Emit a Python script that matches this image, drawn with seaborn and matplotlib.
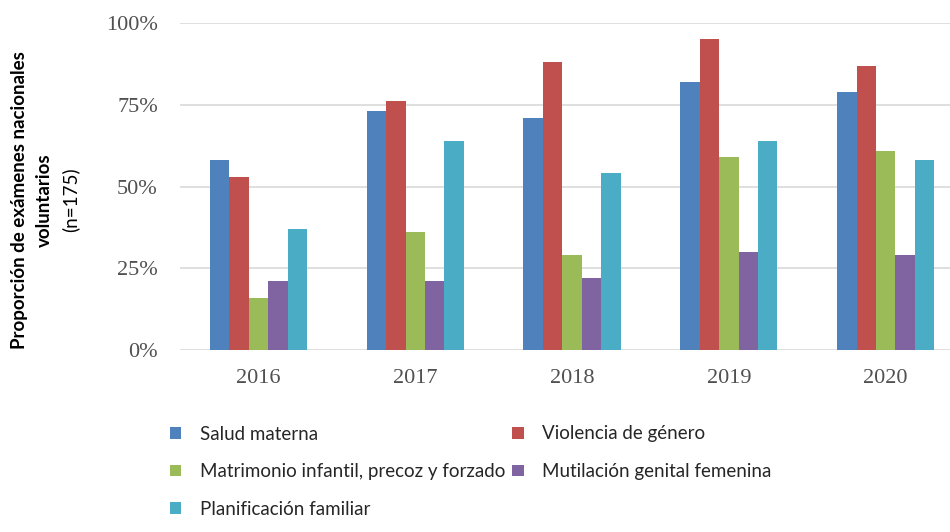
import matplotlib
matplotlib.use("Agg")
import matplotlib.pyplot as plt
import seaborn as sns
import pandas as pd
from matplotlib.ticker import PercentFormatter
from matplotlib.patches import Patch

years = ["2016", "2017", "2018", "2019", "2020"]
topics = ["Salud materna", "Violencia de género",
          "Matrimonio infantil, precoz y forzado",
          "Mutilación genital femenina", "Planificación familiar"]
salud_materna = [58, 73, 71, 82, 79]
violencia_genero = [53, 76, 88, 95, 87]
matrimonio_infantil = [16, 36, 29, 59, 61]
mutilacion_genital = [21, 21, 22, 30, 29]
planificacion_familiar = [37, 64, 54, 64, 58]
colors = ["#4F81BD", "#C0504D", "#9BBB59", "#8064A2", "#4BACC6"]

series = [salud_materna, violencia_genero, matrimonio_infantil,
          mutilacion_genital, planificacion_familiar]
rows = []
for t, vals in zip(topics, series):
    for y, v in zip(years, vals):
        rows.append({"año": y, "tema": t, "valor": v})
df = pd.DataFrame(rows)

sns.set_theme(style="white")
plt.rcParams["font.family"] = ["Lato", "DejaVu Sans"]

fig = plt.figure(figsize=(9.5, 5.32), dpi=100)
ax = fig.add_axes([180/950, 1-350/532, 1-180/950, (350-23)/532])

sns.barplot(data=df, x="año", y="valor", hue="tema", hue_order=topics,
            order=years, palette=colors, saturation=1, width=0.62, gap=0,
            linewidth=0, ax=ax, legend=False)

ax.set_ylim(0, 100)
ax.set_xlim(-0.5, 4.41)
ax.set_yticks([0, 25, 50, 75, 100])
ax.yaxis.set_major_formatter(PercentFormatter(xmax=100, decimals=0))
ax.yaxis.grid(True, color="#D9D9D9", linewidth=1.2)
ax.set_axisbelow(True)
for s in ax.spines.values():
    s.set_visible(False)
ax.tick_params(axis="both", length=0, labelsize=16, colors="#505050")
ax.tick_params(axis="y", pad=16)
ax.tick_params(axis="x", pad=14)
for lab in ax.get_xticklabels() + ax.get_yticklabels():
    lab.set_fontfamily("Liberation Serif")
ax.set_xlabel("")
ax.set_ylabel("")

# y-axis label (three lines, first two bold)
fig.text(20/950, 0.624, "Proporción de exámenes nacionales", rotation=90,
         ha="center", va="center", fontsize=13.5, fontweight="bold", color="black")
fig.text(44/950, 0.624, "voluntarios", rotation=90,
         ha="center", va="center", fontsize=13.5, fontweight="bold", color="black")
fig.text(70/950, 0.624, "(n=175)", rotation=90,
         ha="center", va="center", fontsize=13.5, color="black")

# legend (row-wise ordering)
order_idx = [0, 2, 4, 1, 3]
handles = [Patch(facecolor=colors[i], edgecolor="none") for i in order_idx]
labels = [topics[i] for i in order_idx]
fig.legend(handles, labels, ncol=2, loc="upper left",
           bbox_to_anchor=(162/950, 1-418/532), frameon=False,
           fontsize=13.5, handlelength=0.6, handleheight=0.6,
           handletextpad=1.0, columnspacing=0.4, labelspacing=1.1,
           borderaxespad=0)

fig.savefig("out.png", dpi=100, facecolor="white")
